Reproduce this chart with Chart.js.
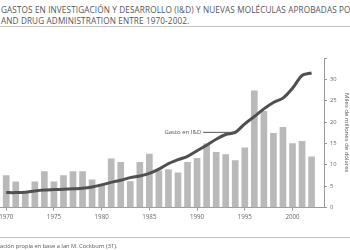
<!DOCTYPE html>
<html>
<head>
<meta charset="utf-8">
<script src="https://cdn.jsdelivr.net/npm/chart.js@4/dist/chart.umd.min.js"></script>
<style>
  body { margin: 0; background: #fff; }
  #wrap { position: relative; width: 350px; height: 250px; overflow: hidden; font-family: "Open Sans", sans-serif; }
  #chart { position: absolute; left: 0; top: 0; }
  .title { position: absolute; left: 1px; white-space: nowrap; font-size: 8.2px; letter-spacing: 0.12px; color: #555; }
  .rule { position: absolute; left: 0; width: 350px; height: 1px; background: #c4c4c4; }
  .source { position: absolute; left: 0; top: 242px; white-space: nowrap; font-size: 5.7px; color: #555; }
</style>
</head>
<body>
<div id="wrap">
  <div class="title" style="top:4px">GASTOS EN INVESTIGACIÓN Y DESARROLLO (I&amp;D) Y NUEVAS MOLÉCULAS APROBADAS POR</div>
  <div class="title" style="top:14.5px">AND DRUG ADMINISTRATION ENTRE 1970-2002.</div>
  <div class="rule" style="top:26px"></div>
  <canvas id="chart" width="350" height="250"></canvas>
  <div class="rule" style="top:237px"></div>
  <div class="source">ación propia en base a Ian M. Cockburn (31).</div>
</div>
<script>
let years = [];
for (let y = 1970; y <= 2002; y++) years.push(y);

// nuevas moléculas aprobadas (barras)
let newMolecules = [7.5, 6.0, 3.7, 6.0, 8.4, 6.0, 7.5, 8.4, 8.4, 6.5,
  5.5, 11.4, 10.6, 6.1, 10.6, 12.5, 8.6, 8.9, 8.1, 10.6,
  11.5, 14.9, 12.9, 12.4, 11.0, 14.0, 27.3, 22.5, 17.4, 18.8,
  15.0, 15.5, 11.9];

// gasto en I&D, miles de millones de dólares (línea)
let rdSpending = [3.5, 3.5, 3.6, 3.9, 4.1, 4.2, 4.3, 4.4, 4.5, 4.8,
  5.3, 5.9, 6.4, 7.0, 7.4, 8.0, 9.0, 10.3, 11.2, 12.0,
  13.3, 14.6, 16.0, 17.1, 17.6, 19.6, 21.3, 23.1, 24.6, 25.6,
  27.9, 30.9, 31.5];

let yTicks = [0, 5, 10, 15, 20, 25, 30];
let lineLabel = "Gasto en I&D";
let lineLabelYear = 1994;
let axisTitle = "Miles de millones de dólares";

let tickColor = "#666";
let axisColor = "#999";

// label + leader line pointing at the spending curve
const leaderPlugin = {
  id: "leader",
  afterDatasetsDraw(chart) {
    let ctx = chart.ctx;
    let x = chart.scales.x, y = chart.scales.y;
    let i = years.indexOf(lineLabelYear);
    let px = x.getPixelForValue(years[i]);
    let py = y.getPixelForValue(rdSpending[i]);
    ctx.save();
    ctx.strokeStyle = "#555";
    ctx.lineWidth = 1;
    ctx.beginPath();
    ctx.moveTo(px - 32, py);
    ctx.lineTo(px, py);
    ctx.stroke();
    ctx.fillStyle = "#555";
    ctx.font = '6px "Open Sans"';
    ctx.textAlign = "right";
    ctx.textBaseline = "middle";
    ctx.fillText(lineLabel, px - 34, py - 0.5);
    ctx.restore();
  },
};

new Chart(document.getElementById("chart"), {
  type: "bar",
  data: {
    datasets: [
      {
        type: "line",
        label: lineLabel,
        data: years.map((yr, i) => ({ x: yr, y: rdSpending[i] })),
        borderColor: "#505050",
        borderWidth: 3,
        pointRadius: 0,
        tension: 0.3,
        order: 0,
      },
      {
        label: "Nuevas moléculas",
        data: years.map((yr, i) => ({ x: yr, y: newMolecules[i] })),
        backgroundColor: "#b9b9b9",
        barThickness: 6,
        order: 1,
      },
    ],
  },
  options: {
    responsive: false,
    animation: false,
    layout: { padding: { top: 58, left: 0, right: 0, bottom: 26 } },
    plugins: { legend: { display: false }, tooltip: { enabled: false } },
    scales: {
      x: {
        type: "linear",
        offset: false,
        min: 1969.35,
        max: 2003.3,
        afterFit: (s) => { s.paddingLeft = 0; s.paddingRight = 0; },
        grid: { drawOnChartArea: false, offset: false, tickLength: 3, color: axisColor },
        border: { color: axisColor },
        ticks: {
          stepSize: 5,
          includeBounds: false,
          maxRotation: 0,
          padding: 3,
          color: tickColor,
          font: { family: "Open Sans", size: 6.2 },
          callback: (v) => String(v),
        },
      },
      y: {
        position: "right",
        min: 0,
        max: 35,
        afterFit: (s) => { s.width = 26; },
        grid: { drawOnChartArea: false, tickLength: 3, color: axisColor },
        border: { color: axisColor },
        ticks: {
          stepSize: 5,
          padding: 3,
          color: tickColor,
          font: { family: "Open Sans", size: 5.8 },
          callback: (v) => (yTicks.includes(v) ? String(v) : ""),
        },
        title: {
          display: true,
          text: axisTitle,
          color: "#555",
          padding: { top: 0, bottom: 0 },
          font: { family: "Open Sans", size: 6 },
        },
      },
    },
  },
  plugins: [leaderPlugin],
});
</script>
</body>
</html>
